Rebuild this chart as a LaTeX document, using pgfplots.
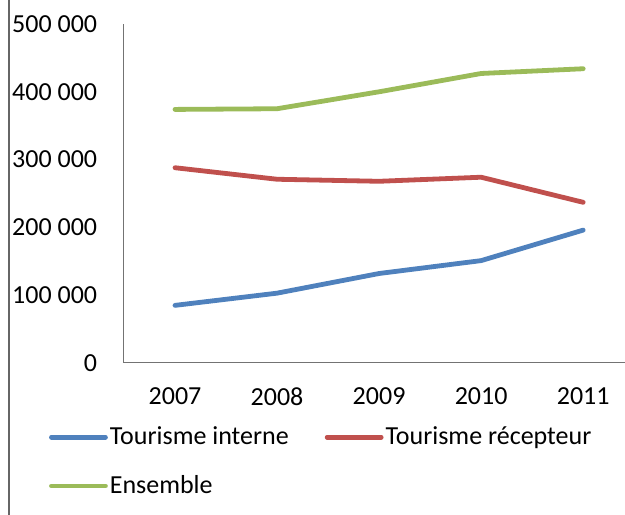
\documentclass[border=0pt]{standalone}
\usepackage{fontspec}
\setmainfont{Carlito}
\usepackage{pgfplots}
\pgfplotsset{compat=1.18}
\definecolor{cblue}{HTML}{4F81BD}
\definecolor{cred}{HTML}{C0504D}
\definecolor{cgreen}{HTML}{9BBB59}
\begin{document}
\fontsize{26bp}{30bp}\selectfont
\begin{tikzpicture}[x=1bp,y=1bp]
\path[use as bounding box] (-124,-152) rectangle (501,363);
\draw[gray!80!black, line width=1.2bp] (-115,-152) -- (-115,363);
\begin{axis}[
    at={(0,0)}, anchor=south west,
    scale only axis,
    width=501bp, height=339bp,
    axis lines=left,
    axis line style={gray!90!black, line width=1bp, -},
    xmin=2006.5, xmax=2011.41,
    ymin=0, ymax=500000,
    scaled y ticks=false,
    xtick={2007,2008,2009,2010,2011},
    xticklabels={2007,2008,2009,2010,2011},
    ytick={0,100000,200000,300000,400000,500000},
    yticklabels={0,100 000,200 000,300 000,400 000,500 000},
    major tick length=0pt,
    tick label style={font=\fontsize{26bp}{30bp}\selectfont},
    yticklabel style={xshift=-18bp},
    xticklabel style={yshift=-16bp},
    legend columns=2,
    legend style={
        at={(-0.15,-0.18)}, anchor=north west,
        draw=none, fill=none, inner sep=0pt,
        font=\fontsize{26bp}{30bp}\selectfont,
        /tikz/every even column/.append style={column sep=34bp},
        row sep=23bp,
        cells={anchor=west},
    },
    legend image code/.code={
        \draw[#1, line cap=round] (0bp,0bp) -- (54bp,0bp);
    },
    every axis plot/.append style={line width=4.8bp, line cap=round, line join=round},
]
\addplot[cblue] coordinates {(2007,85000)(2008,103000)(2009,132000)(2010,151000)(2011,196000)};
\addlegendentry{Tourisme interne}
\addplot[cred] coordinates {(2007,288000)(2008,271000)(2009,268000)(2010,274000)(2011,237000)};
\addlegendentry{Tourisme récepteur}
\addplot[cgreen] coordinates {(2007,374000)(2008,375000)(2009,400000)(2010,427000)(2011,434000)};
\addlegendentry{Ensemble}
\end{axis}
\end{tikzpicture}
\end{document}
